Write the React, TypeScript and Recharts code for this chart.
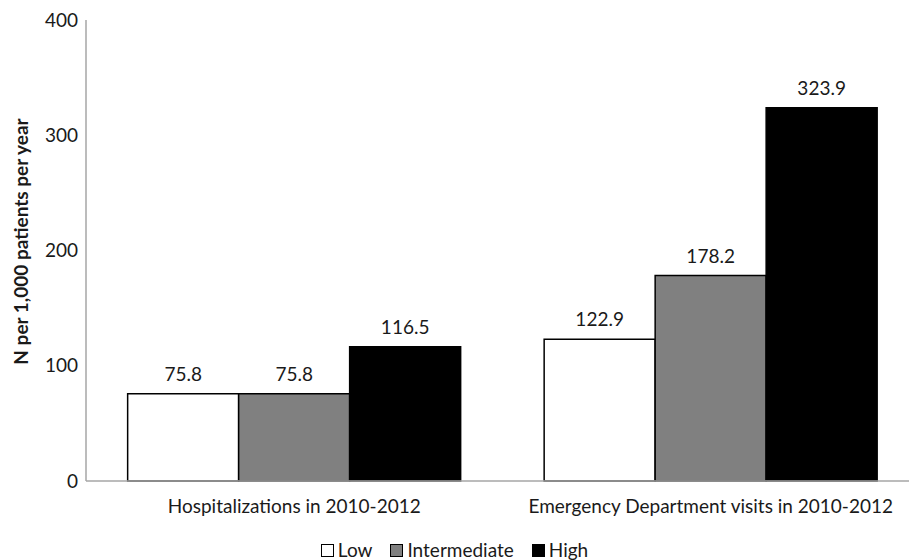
import { BarChart, Bar, XAxis, YAxis, Legend, LabelList, Label } from 'recharts'

// values
const CATEGORIES = ['Hospitalizations in 2010-2012', 'Emergency Department visits in 2010-2012']
const LOW = [75.8, 122.9]
const INTERMEDIATE = [75.8, 178.2]
const HIGH = [116.5, 323.9]
const Y_TICKS = [0, 100, 200, 300, 400]

const SERIES = [
  { key: 'low', name: 'Low', fill: '#ffffff' },
  { key: 'intermediate', name: 'Intermediate', fill: '#808080' },
  { key: 'high', name: 'High', fill: '#000000' },
]

const data = CATEGORIES.map((category, i) => ({
  category,
  low: LOW[i],
  intermediate: INTERMEDIATE[i],
  high: HIGH[i],
}))

const FONT = 'Lato, "Noto Sans", sans-serif'
const FONT_SIZE = 19
const TEXT = '#1a1a1a'
const AXIS = '#a6a6a6'

function LegendContent() {
  return (
    <div
      style={{
        display: 'flex',
        justifyContent: 'center',
        alignItems: 'center',
        gap: 18,
        fontFamily: FONT,
        fontSize: FONT_SIZE,
        lineHeight: '18px',
        color: TEXT,
      }}
    >
      {SERIES.map((s) => (
        <span key={s.key} style={{ display: 'flex', alignItems: 'center', gap: 4 }}>
          <span
            style={{
              width: 11,
              height: 11,
              background: s.fill,
              border: '1px solid #000',
              display: 'inline-block',
            }}
          />
          {s.name}
        </span>
      ))}
    </div>
  )
}

function YLabel(props: any) {
  const vb = props.viewBox || { y: 20, height: 461 }
  const cx = 20
  const cy = vb.y + vb.height / 2 - 9
  return (
    <text
      x={cx}
      y={cy}
      transform={`rotate(-90 ${cx} ${cy})`}
      textAnchor="middle"
      dominantBaseline="central"
      fontFamily={FONT}
      fontSize={FONT_SIZE}
      fontWeight="bold"
      fill={TEXT}
    >
      N per 1,000 patients per year
    </text>
  )
}

export default function App() {
  return (
    <div style={{ position: 'absolute', left: 0, top: 0, background: '#fff' }}>
      <BarChart
        width={909}
        height={560}
        data={data}
        margin={{ top: 20, right: -10, left: 26, bottom: 0 }}
        barCategoryGap="10%"
        barGap={0}
      >
        <XAxis
          dataKey="category"
          height={79}
          axisLine={{ stroke: AXIS, strokeWidth: 1.5 }}
          tickLine={false}
          tickMargin={13}
          tick={{ fill: TEXT, fontSize: FONT_SIZE, fontFamily: FONT }}
          interval={0}
        />
        <YAxis
          domain={[0, 400]}
          ticks={Y_TICKS}
          width={60}
          axisLine={{ stroke: AXIS, strokeWidth: 1.5 }}
          tickLine={false}
          tick={{ fill: TEXT, fontSize: FONT_SIZE, fontFamily: FONT }}
        >
          <Label content={<YLabel />} />
        </YAxis>
        <Legend
          verticalAlign="middle"
          align="center"
          wrapperStyle={{ top: 541, left: 0, width: 909 }}
          content={<LegendContent />}
        />
        {SERIES.map((s) => (
          <Bar
            key={s.key}
            dataKey={s.key}
            name={s.name}
            fill={s.fill}
            stroke="#000"
            strokeWidth={1.5}
            isAnimationActive={false}
          >
            <LabelList
              dataKey={s.key}
              position="top"
              offset={13}
              fill={TEXT}
              fontSize={FONT_SIZE}
              fontFamily={FONT}
            />
          </Bar>
        ))}
      </BarChart>
    </div>
  )
}
